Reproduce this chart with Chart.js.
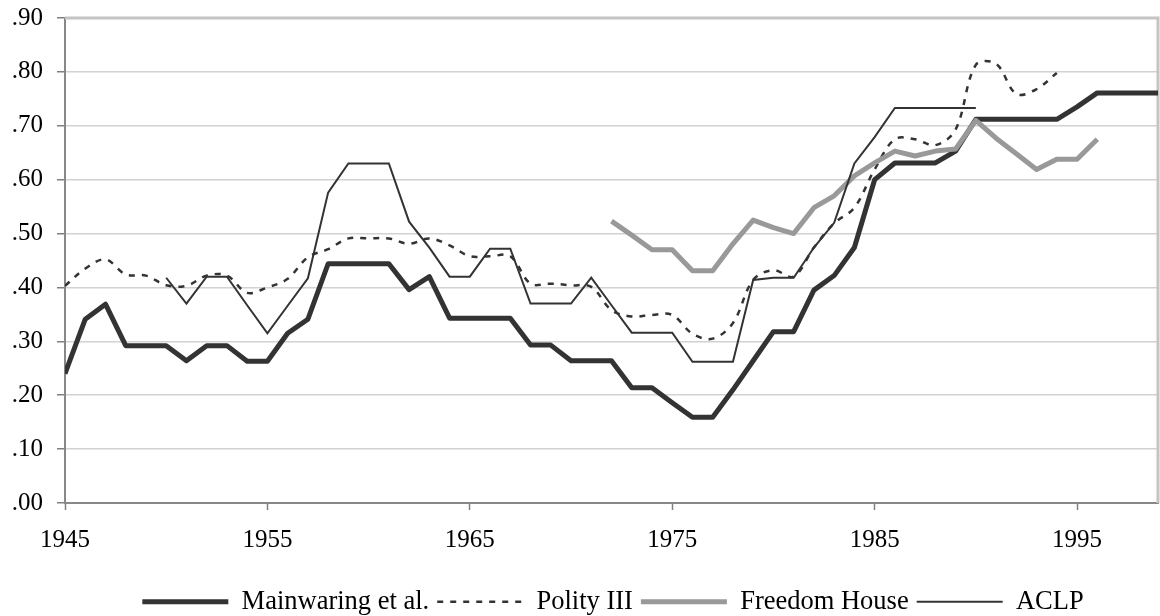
<!DOCTYPE html>
<html>
<head>
<meta charset="utf-8">
<style>
html,body{margin:0;padding:0;background:#ffffff;}
#wrap{width:1160px;height:616px;}
</style>
<script src="https://cdn.jsdelivr.net/npm/chart.js@4/dist/chart.umd.min.js"></script>
</head>
<body>
<div id="wrap"><canvas id="c" width="1160" height="616"></canvas></div>
<script>
// ---- data ----
const years = [1945,1946,1947,1948,1949,1950,1951,1952,1953,1954,1955,1956,1957,1958,1959,1960,1961,1962,1963,1964,1965,1966,1967,1968,1969,1970,1971,1972,1973,1974,1975,1976,1977,1978,1979,1980,1981,1982,1983,1984,1985,1986,1987,1988,1989,1990,1991,1992,1993,1994,1995,1996,1997,1998,1999];
const xTickValues = [1945,1955,1965,1975,1985,1995];
const yTickValues = [0,0.1,0.2,0.3,0.4,0.5,0.6,0.7,0.8,0.9];
const yTickLabels = ['.00','.10','.20','.30','.40','.50','.60','.70','.80','.90'];
const seriesNames = ['Mainwaring et al.','Polity III','Freedom House','ACLP'];

const mainwaringStart = 1945;
const mainwaring = [0.240,0.341,0.369,0.292,0.292,0.292,0.264,0.292,0.292,0.263,
  0.263,0.315,0.341,0.444,0.444,0.444,0.444,0.396,0.420,0.343,
  0.343,0.343,0.343,0.293,0.293,0.264,0.264,0.264,0.214,0.214,
  0.186,0.159,0.159,0.210,0.264,0.318,0.318,0.395,0.422,0.474,
  0.600,0.631,0.631,0.631,0.653,0.712,0.712,0.712,0.712,0.712,
  0.735,0.761,0.761,0.761,0.761];

const polityStart = 1945;
const polity = [0.403,0.435,0.452,0.424,0.422,0.404,0.403,0.422,0.422,0.390,
  0.400,0.416,0.456,0.471,0.491,0.491,0.491,0.481,0.491,0.478,
  0.458,0.458,0.458,0.407,0.407,0.404,0.401,0.358,0.346,0.349,
  0.349,0.314,0.305,0.334,0.414,0.432,0.420,0.474,0.519,0.548,
  0.619,0.675,0.675,0.664,0.693,0.813,0.815,0.759,0.768,0.798];

const freedomStart = 1972;
const freedomHouse = [0.523,0.497,0.470,0.470,0.431,0.431,0.481,0.525,0.511,0.500,
  0.548,0.570,0.607,0.631,0.653,0.644,0.653,0.657,0.710,0.677,
  0.648,0.619,0.638,0.638,0.675];

const aclpStart = 1950;
const aclp = [0.418,0.370,0.420,0.420,0.367,0.315,0.366,0.417,0.576,0.630,
  0.630,0.630,0.522,0.474,0.420,0.420,0.472,0.472,0.370,0.370,
  0.370,0.418,0.367,0.316,0.316,0.316,0.262,0.262,0.262,0.414,
  0.418,0.418,0.474,0.520,0.630,0.679,0.733,0.733,0.733,0.733,
  0.733];

function toPoints(start, values){
  const idx = years.indexOf(start);
  return values.map((v,i)=>({x: years[idx+i], y: v}));
}

const serifFont = {family:"'Liberation Serif','Times New Roman',serif", size:25};
const legendFont = {family:"'Liberation Serif','Times New Roman',serif", size:26.5};
const PLOT_BOTTOM = 503;

const borderPlugin = {
  id:'frameBorder',
  beforeDatasetsDraw(chart){
    const a = chart.chartArea, c = chart.ctx;
    c.save();
    c.strokeStyle = '#c4c4c4';
    c.lineWidth = 3;
    c.beginPath();
    c.moveTo(a.left, a.top);
    c.lineTo(a.right, a.top);
    c.lineTo(a.right, a.bottom);
    c.stroke();
    c.restore();
  }
};

const legendShift = {
  id:'legendShift',
  afterLayout(chart){
    const L = chart.legend;
    if (L){
      const dx = 34, dy = 625 - L.bottom;
      L.left += dx; L.right += dx;
      L.top += dy; L.bottom += dy;
    }
  }
};

new Chart(document.getElementById('c').getContext('2d'), {
  type:'line',
  data:{
    datasets:[
      {label:seriesNames[0], data:toPoints(mainwaringStart, mainwaring), borderColor:'#333333', backgroundColor:'#333333', borderWidth:5, pointRadius:0, pointHoverRadius:0, tension:0, order:4, borderJoinStyle:'round'},
      {label:seriesNames[1], data:toPoints(polityStart, polity), borderColor:'#333333', backgroundColor:'#333333', borderWidth:2.5, borderDash:[6,7], pointRadius:0, pointHoverRadius:0, tension:0.35, order:3},
      {label:seriesNames[2], data:toPoints(freedomStart, freedomHouse), borderColor:'#999999', backgroundColor:'#999999', borderWidth:5, pointRadius:0, pointHoverRadius:0, tension:0, order:2, borderJoinStyle:'round'},
      {label:seriesNames[3], data:toPoints(aclpStart, aclp), borderColor:'#333333', backgroundColor:'#333333', borderWidth:2, pointRadius:0, pointHoverRadius:0, tension:0, order:1}
    ]
  },
  options:{
    responsive:false,
    animation:false,
    devicePixelRatio:1,
    layout:{padding:{top:18, right:2, left:0, bottom:0}},
    scales:{
      x:{
        type:'linear', min:1945, max:1999,
        afterBuildTicks(s){ s.ticks = xTickValues.map(v=>({value:v})); },
        afterFit(s){ s.height = s.chart.height - s.chart.legend.height - PLOT_BOTTOM; s.paddingLeft = 0; s.paddingRight = 0; },
        ticks:{callback:(v)=>String(v), font:serifFont, color:'#000', padding:15, maxRotation:0, autoSkip:false},
        grid:{drawOnChartArea:false, drawTicks:true, tickLength:7, tickColor:'#808080', tickWidth:1.5},
        border:{color:'#888888', width:2}
      },
      y:{
        type:'linear', min:0, max:0.9,
        afterBuildTicks(s){ s.ticks = yTickValues.map(v=>({value:v})); },
        afterFit(s){ s.width = 65; s.paddingTop = 0; s.paddingBottom = 0; },
        ticks:{callback:(v,i)=>yTickLabels[i], font:serifFont, color:'#000', padding:14},
        grid:{color:'#d2d2d2', lineWidth:1.5, drawTicks:true, tickLength:8, tickColor:'#808080', tickWidth:1.5},
        border:{color:'#888888', width:2}
      }
    },
    plugins:{
      tooltip:{enabled:false},
      legend:{
        position:'bottom',
        labels:{
          font:legendFont, color:'#000', usePointStyle:true, pointStyleWidth:86, padding:8,
          generateLabels(chart){
            return chart.data.datasets.map((ds,i)=>({
              text: ds.label, strokeStyle: ds.borderColor, fillStyle: ds.borderColor,
              lineWidth: ds.borderWidth, lineDash: ds.borderDash || [], lineDashOffset:0,
              lineCap:'butt', pointStyle:'line', hidden:false, datasetIndex:i, fontColor:'#000'
            }));
          }
        }
      }
    }
  },
  plugins:[borderPlugin, legendShift]
});
</script>
</body>
</html>
